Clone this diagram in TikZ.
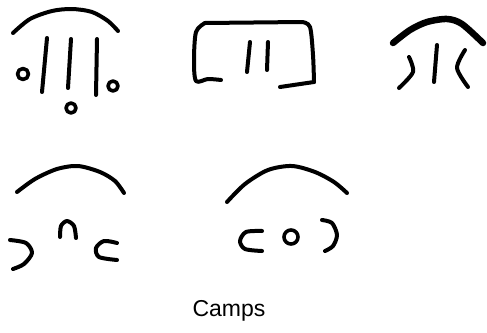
\documentclass[tikz,border=0pt]{standalone}
\usepackage{fontspec}
\setmainfont{Liberation Sans}
\usetikzlibrary{positioning}
\tikzset{
  pen/.style={draw=black, line width=4pt, line cap=round, line join=round},
  heavypen/.style={pen, line width=6.5pt},
  dot/.style={pen, line width=3.6pt},
  caption/.style={font=\fontsize{23}{25}\selectfont, inner sep=0pt}
}
\begin{document}
\begin{tikzpicture}[x=1pt, y=-1pt]
  \useasboundingbox (0,0) rectangle (487,332);
  % first symbol
  \draw[pen] plot[smooth] coordinates {(13,33) (30,19) (52,11) (72,9) (92,12) (108,21) (118,31)};
  \draw[pen] (47,38) -- (42,92);
  \draw[pen] (71,39) -- (68,88);
  \draw[pen] (97,39) -- (96,95);
  \draw[dot] (23,74) circle (5.5);
  \draw[dot] (113,86) circle (5);
  \draw[dot] (71,108) circle (5);
  % second symbol
  \draw[pen] plot[smooth] coordinates {(221,80) (208,79) (196,81) (194,60) (196,32) (205,23)};
  \draw[pen] (205,23) -- (302,22);
  \draw[pen] plot[smooth] coordinates {(302,22) (310,27) (313,55) (314,82)};
  \draw[pen] (314,82) -- (280,87);
  \draw[pen] (250,42) -- (247,72);
  \draw[pen] (268,42) -- (267,70);
  % third symbol
  \draw[heavypen] plot[smooth] coordinates {(393,43) (410,30) (427,22) (447,19) (462,24) (483,43)};
  \draw[pen] plot[smooth] coordinates {(409,57) (413,72) (399,88)};
  \draw[pen] (437,45) -- (434,82);
  \draw[pen] plot[smooth] coordinates {(465,50) (457,68) (468,87)};
  % fourth symbol
  \draw[pen] plot[smooth] coordinates {(17,192) (35,179) (57,169) (78,166) (100,172) (115,181) (124,193)};
  \draw[pen] plot[smooth] coordinates {(10,240) (26,243) (32,253) (24,264) (13,269)};
  \draw[pen] plot[smooth] coordinates {(60,237) (61,226) (67,221) (74,226) (76,238)};
  \draw[pen] plot[smooth] coordinates {(117,243) (104,241) (96,248) (99,257) (117,260)};
  % fifth symbol
  \draw[pen] plot[smooth] coordinates {(227,202) (245,184) (268,170) (292,166) (315,172) (334,182) (347,193)};
  \draw[pen] plot[smooth] coordinates {(262,231) (246,232) (240,241) (245,249) (262,251)};
  \draw[dot] (291,237) circle (7);
  \draw[pen] plot[smooth] coordinates {(322,220) (332,223) (337,235) (333,246) (325,251)};
  \node[caption] (title) at (229,311) {Camps};
\end{tikzpicture}
\end{document}
